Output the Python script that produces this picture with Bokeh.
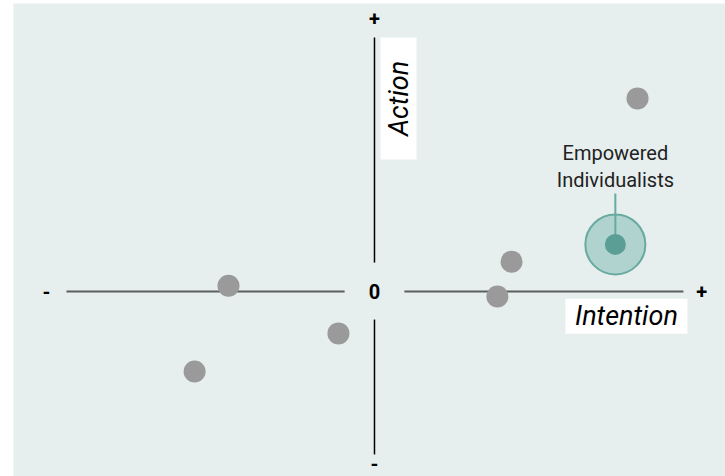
from bokeh.plotting import figure
from bokeh.models import Range1d
from bokeh.core.properties import value
from bokeh.embed import file_html
from bokeh.resources import INLINE

# data (Intention on x, Action on y)
seg_x = [8.54, 4.45, 3.99, -4.74, -1.17, -5.84]
seg_y = [6.27, 0.97, -0.16, 0.19, -1.36, -2.60]
hi_name = ["Empowered", "Individualists"]
hi_x = 7.82
hi_y = 1.53
x_label = "Intention"
y_label = "Action"

FONT = value("Roboto")

p = figure(width=725, height=476, output_backend="svg", toolbar_location=None,
           x_range=Range1d(-11.72, 11.396), y_range=Range1d(-6.006, 9.351),
           min_border_left=13, min_border_right=0, min_border_top=3, min_border_bottom=0)
p.axis.visible = False
p.grid.visible = False
p.outline_line_color = None
p.background_fill_color = "#e6efee"
p.border_fill_color = "white"

# axis lines
p.segment(x0=[-10, 0.97], y0=[0, 0], x1=[-0.97, 10.03], y1=[0, 0],
          line_color="#5a5f5e", line_width=2)
p.segment(x0=[0, 0], y0=[8.25, -0.91], x1=[0, 0], y1=[0.94, -5.29],
          line_color="black", line_width=1.5)

# end marks
p.text(x=[0, 0, -10.65, 10.62, 0], y=[8.86, -5.58, 0, 0, 0],
       text=["+", "-", "-", "+", "0"], text_font=FONT, text_font_style="bold",
       text_font_size="20px", text_align="center", text_baseline="middle",
       text_color="black")

# axis title boxes
p.rect(x=[0.78], y=[6.27], width=36, height=122, width_units="screen",
       height_units="screen", fill_color="white", line_color=None)
p.text(x=[0.78], y=[6.27], text=[y_label], angle=1.5708, text_font=FONT,
       text_font_style="italic", text_font_size="27px", text_align="center",
       text_baseline="middle", text_color="black")
p.rect(x=[8.18], y=[-0.80], width=122, height=35, width_units="screen",
       height_units="screen", fill_color="white", line_color=None)
p.text(x=[8.18], y=[-0.80], text=[x_label], text_font=FONT,
       text_font_style="italic", text_font_size="27px", text_align="center",
       text_baseline="middle", text_color="black")

# gray points
p.scatter(x=seg_x, y=seg_y, size=22, fill_color="#9a9a9a", line_color=None)

# highlighted segment
p.scatter(x=[hi_x], y=[hi_y], size=60, fill_color="#b1d3cf",
          line_color="#68aaa0", line_width=2)
p.segment(x0=[hi_x], y0=[hi_y], x1=[hi_x], y1=[hi_y + 1.65],
          line_color="#68aaa0", line_width=2)
p.scatter(x=[hi_x], y=[hi_y], size=21, fill_color="#5b9e95", line_color=None)
p.text(x=[hi_x, hi_x], y=[hi_y + 2.97, hi_y + 2.10], text=hi_name,
       text_font=FONT, text_font_size="20px", text_align="center",
       text_baseline="middle", text_color="#222222")

open("out.html", "w").write(file_html(p, INLINE))
